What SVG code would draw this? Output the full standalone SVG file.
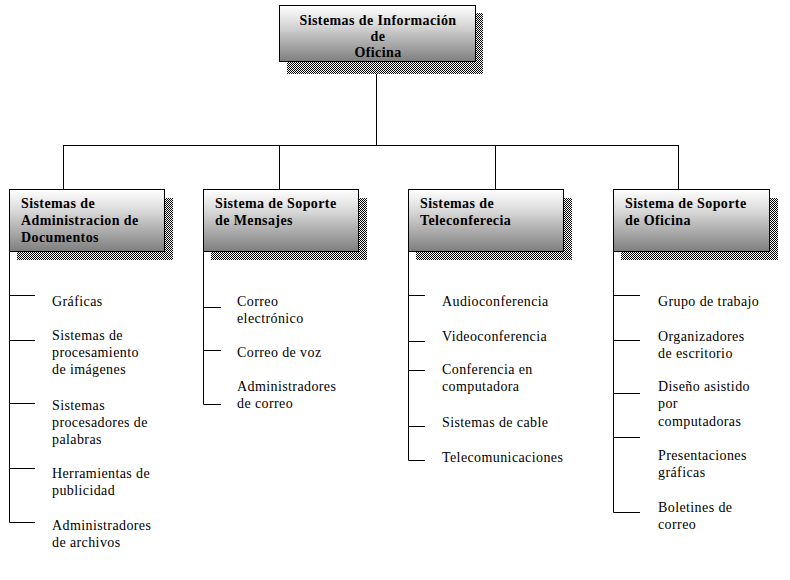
<svg xmlns="http://www.w3.org/2000/svg" width="790" height="580" viewBox="0 0 790 580">
<defs>
<linearGradient id="fg" x1="0" y1="0" x2="0" y2="1">
<stop offset="0" stop-color="#ffffff"/>
<stop offset="0.35" stop-color="#d8d8d8"/>
<stop offset="1" stop-color="#7e7e7e"/>
</linearGradient>
<pattern id="chk" width="2" height="2" patternUnits="userSpaceOnUse">
<rect width="2" height="2" fill="#fff"/>
<rect width="1" height="1" fill="#000"/>
<rect x="1" y="1" width="1" height="1" fill="#000"/>
</pattern>
</defs>
<style>
.sh{fill:url(#chk)}
.bx{fill:url(#fg);stroke:#000;stroke-width:1}
.ln{fill:none;stroke:#000;stroke-width:1}
.h{font-family:"Liberation Serif",serif;font-size:14px;font-weight:bold;letter-spacing:0.4px;fill:#000}
.t{font-family:"Liberation Serif",serif;font-size:14px;letter-spacing:0.4px;fill:#000}
</style>
<rect width="790" height="580" fill="#fff"/>
<g id="connectors">
<path class="ln" d="M376.5 74V145.5M63.5 145.5H678.5M63.5 145V189M279.5 145V189M495.5 145V189M678.5 145V189"/>
<path class="ln" d="M9.5 252V522.5H35M9.5 295.5H35M9.5 340.5H35M9.5 403.5H35M9.5 468.5H35"/>
<path class="ln" d="M203.5 252V404.5H221M203.5 307.5H221M203.5 350.5H221"/>
<path class="ln" d="M408.5 252V460.5H425M408.5 295.5H425M408.5 341.5H425M408.5 370.5H425M408.5 426.5H425"/>
<path class="ln" d="M613.5 252V512.5H640M613.5 295.5H640M613.5 340.5H640M613.5 393.5H640M613.5 437.5H640"/>
</g>
<g id="top">
<rect class="sh" x="287" y="13" width="196" height="61"/>
<rect class="bx" x="279.5" y="5.5" width="196" height="56"/>
<text class="h" text-anchor="middle"><tspan x="378" y="25">Sistemas de Información</tspan><tspan x="378" y="41">de</tspan><tspan x="378" y="57">Oficina</tspan></text>
</g>
<g id="n1">
<rect class="sh" x="17" y="198" width="156" height="62"/>
<rect class="bx" x="9.5" y="189.5" width="155" height="62"/>
<text class="h"><tspan x="21" y="208">Sistemas de</tspan><tspan x="21" y="225">Administracion de</tspan><tspan x="21" y="242">Documentos</tspan></text>
</g>
<g id="n2">
<rect class="sh" x="211" y="198" width="156" height="62"/>
<rect class="bx" x="203.5" y="189.5" width="155" height="62"/>
<text class="h"><tspan x="215" y="208">Sistema de Soporte</tspan><tspan x="215" y="225">de Mensajes</tspan></text>
</g>
<g id="n3">
<rect class="sh" x="416" y="198" width="156" height="62"/>
<rect class="bx" x="408.5" y="189.5" width="155" height="62"/>
<text class="h"><tspan x="420" y="208">Sistemas de</tspan><tspan x="420" y="225">Teleconferecia</tspan></text>
</g>
<g id="n4">
<rect class="sh" x="621" y="198" width="157" height="62"/>
<rect class="bx" x="613.5" y="189.5" width="156" height="62"/>
<text class="h"><tspan x="625" y="208">Sistema de Soporte</tspan><tspan x="625" y="225">de Oficina</tspan></text>
</g>
<g id="leaves1">
<text class="t" x="52" y="306">Gráficas</text>
<text class="t"><tspan x="52" y="340">Sistemas de</tspan><tspan x="52" y="357">procesamiento</tspan><tspan x="52" y="374">de imágenes</tspan></text>
<text class="t"><tspan x="52" y="410">Sistemas</tspan><tspan x="52" y="427">procesadores de</tspan><tspan x="52" y="444">palabras</tspan></text>
<text class="t"><tspan x="52" y="478">Herramientas de</tspan><tspan x="52" y="495">publicidad</tspan></text>
<text class="t"><tspan x="52" y="530">Administradores</tspan><tspan x="52" y="547">de archivos</tspan></text>
</g>
<g id="leaves2">
<text class="t"><tspan x="237" y="306">Correo</tspan><tspan x="237" y="323">electrónico</tspan></text>
<text class="t" x="237" y="357">Correo de voz</text>
<text class="t"><tspan x="237" y="391">Administradores</tspan><tspan x="237" y="408">de correo</tspan></text>
</g>
<g id="leaves3">
<text class="t" x="442" y="306">Audioconferencia</text>
<text class="t" x="442" y="341">Videoconferencia</text>
<text class="t"><tspan x="442" y="374">Conferencia en</tspan><tspan x="442" y="391">computadora</tspan></text>
<text class="t" x="442" y="427">Sistemas de cable</text>
<text class="t" x="442" y="462">Telecomunicaciones</text>
</g>
<g id="leaves4">
<text class="t" x="658" y="306">Grupo de trabajo</text>
<text class="t"><tspan x="658" y="341">Organizadores</tspan><tspan x="658" y="358">de escritorio</tspan></text>
<text class="t"><tspan x="658" y="391">Diseño asistido</tspan><tspan x="658" y="408">por</tspan><tspan x="658" y="426">computadoras</tspan></text>
<text class="t"><tspan x="658" y="460">Presentaciones</tspan><tspan x="658" y="477">gráficas</tspan></text>
<text class="t"><tspan x="658" y="512">Boletines de</tspan><tspan x="658" y="529">correo</tspan></text>
</g>
</svg>
